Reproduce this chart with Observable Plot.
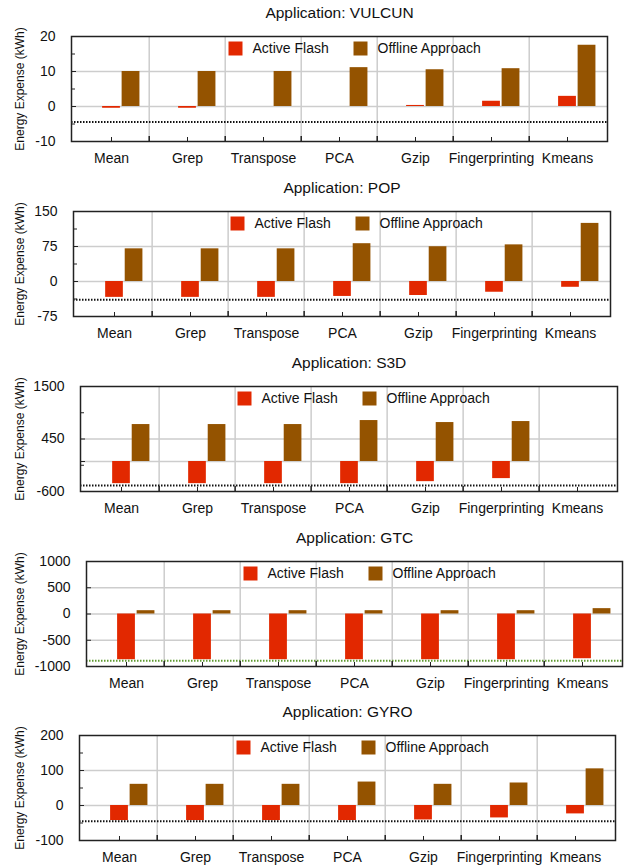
<!DOCTYPE html>
<html>
<head>
<meta charset="utf-8">
<script src="https://cdn.jsdelivr.net/npm/d3@7"></script>
<script src="https://cdn.jsdelivr.net/npm/@observablehq/plot@0.6"></script>
<style>
  html, body { margin: 0; padding: 0; background: #fff; }
  #chart { position: relative; width: 624px; height: 865px; overflow: hidden; }
  #chart > div { position: absolute; left: 0; }
  svg { display: block; }
</style>
</head>
<body>
<div id="chart"></div>
<script>
// ---------- data ----------
const apps = ["VULCUN", "POP", "S3D", "GTC", "GYRO"];
const categories = ["Mean", "Grep", "Transpose", "PCA", "Gzip", "Fingerprinting", "Kmeans"];
const series = ["Active Flash", "Offline Approach"];

const vulcunActive  = [-0.5, -0.5, 0, 0, 0.3, 1.5, 2.9];
const vulcunOffline = [10.0, 10.0, 10.0, 11.1, 10.5, 10.8, 17.5];
const popActive     = [-34, -34, -34, -32, -30, -23, -12.4];
const popOffline    = [70, 70, 70, 81, 74.5, 78.5, 124.5];
const s3dActive     = [-443, -443, -443, -443, -403, -342, null];
const s3dOffline    = [739, 739, 739, 819, 779, 799, null];
const gtcActive     = [-871, -871, -871, -871, -871, -871, -852];
const gtcOffline    = [63, 63, 63, 63, 63, 63, 102];
const gyroActive    = [-43, -43, -43, -43, -41.3, -35.5, -24];
const gyroOffline   = [60.5, 60.5, 60.5, 67, 60.5, 64.3, 104.7];

const activeValues  = [vulcunActive, popActive, s3dActive, gtcActive, gyroActive];
const offlineValues = [vulcunOffline, popOffline, s3dOffline, gtcOffline, gyroOffline];

const thresholds = [-4.45, -39, -480, -890, -45];
const yDomains = [[-10, 20], [-75, 150], [-600, 1500], [-1000, 1000], [-100, 200]];
const yTicks = [[-10, 0, 10, 20], [-75, 0, 75, 150], [-600, 450, 1500], [-1000, -500, 0, 500, 1000], [-100, 0, 100, 200]];
const yMinorTicks = [[-5, 5, 15], [-37.5, 37.5, 112.5], [-75, 975], [], [-50, 50, 150]];

// ---------- layout & style ----------
const W = 624;
const panelTops = [0, 175, 350, 525, 700];
const panelHeights = [175, 175, 175, 175, 165];
const frameTops = [36, 36, 36, 36, 35];
const frameH = 105;
const lefts = [71, 73, 80, 86, 79];
const rights = [607, 610, 617, 622, 615];
const red = "#e22800";
const brown = "#945300";
const thresholdColors = ["#111", "#111", "#111", "#5f9a30", "#111"];
const gridColor = "#cdcdcd";
const font = "'Liberation Sans', Arial, Helvetica, sans-serif";

const chart = document.getElementById("chart");

apps.forEach((app, i) => {
  const L = lefts[i], R = rights[i];
  const fw = R - L;
  const bw = fw / categories.length;
  const [ymin, ymax] = yDomains[i];
  const grid = yTicks[i].filter(t => t > ymin && t < ymax);
  if (!grid.includes(0)) grid.push(0);
  const active = categories.map((c, j) => ({cat: c, value: activeValues[i][j]})).filter(d => d.value != null);
  const offline = categories.map((c, j) => ({cat: c, value: offlineValues[i][j]})).filter(d => d.value != null);
  const mt = frameTops[i];
  const mb = panelHeights[i] - mt - frameH;

  const svg = Plot.plot({
    width: W,
    height: panelHeights[i],
    marginLeft: L,
    marginRight: W - R,
    marginTop: mt,
    marginBottom: mb,
    style: {fontFamily: font, fontSize: "14px", color: "#111", background: "#fff", overflow: "visible"},
    x: {type: "band", domain: categories, padding: 0, tickSize: 0, tickPadding: 12, label: null},
    y: {domain: [ymin, ymax], ticks: yTicks[i], tickSize: 0, tickPadding: 16, tickFormat: d => String(d), label: null},
    marks: [
      Plot.ruleY(grid, {stroke: gridColor, strokeWidth: 1.5}),
      Plot.ruleX(categories.slice(1), {x: d => d, dx: -bw / 2, stroke: gridColor, strokeWidth: 1.5}),
      Plot.barY(active, {x: "cat", y: "value", fill: red, insetLeft: 0.38 * bw, insetRight: 0.38 * bw}),
      Plot.barY(offline, {x: "cat", y: "value", fill: brown, insetLeft: 0.635 * bw, insetRight: 0.125 * bw}),
      Plot.ruleY([thresholds[i]], {stroke: thresholdColors[i], strokeWidth: 2, strokeDasharray: "1.5,1.5"}),
      // inward tick marks
      Plot.ruleY(yMinorTicks[i], {y: d => d, insetRight: fw - 4, stroke: "#222", strokeWidth: 1}),
      Plot.ruleY(grid, {y: d => d, insetRight: fw - 5, stroke: "#222", strokeWidth: 1}),
      Plot.ruleX(categories, {x: d => d, insetTop: frameH - 4, stroke: "#222", strokeWidth: 1}),
      Plot.ruleX(categories.slice(1), {x: d => d, dx: -bw / 2, insetTop: frameH - 5, stroke: "#222", strokeWidth: 1.5}),
      Plot.frame({stroke: "#222", strokeWidth: 1.5}),
      // legend
      Plot.dot([series[0]], {frameAnchor: "top-left", dx: 164, dy: 12, symbol: "square", r: 7.9, fill: red}),
      Plot.text([series[0]], {frameAnchor: "top-left", dx: 181, dy: 12, text: d => d, textAnchor: "start", lineAnchor: "middle", fontSize: 14, fill: "#111"}),
      Plot.dot([series[1]], {frameAnchor: "top-left", dx: 289, dy: 12, symbol: "square", r: 7.9, fill: brown}),
      Plot.text([series[1]], {frameAnchor: "top-left", dx: 306, dy: 12, text: d => d, textAnchor: "start", lineAnchor: "middle", fontSize: 14, fill: "#111"}),
      // title
      Plot.text([`Application: ${app}`], {frameAnchor: "top", dy: -23, text: d => d, textAnchor: "middle", lineAnchor: "middle", fontSize: 15.5, fill: "#111"}),
      // y label
      Plot.text(["Energy Expense (kWh)"], {frameAnchor: "left", dx: 20 - L, text: d => d, rotate: -90, textAnchor: "middle", lineAnchor: "middle", fontSize: 12, fill: "#111"})
    ]
  });
  const holder = document.createElement("div");
  holder.style.top = panelTops[i] + "px";
  holder.appendChild(svg);
  chart.appendChild(holder);
});
</script>
</body>
</html>
